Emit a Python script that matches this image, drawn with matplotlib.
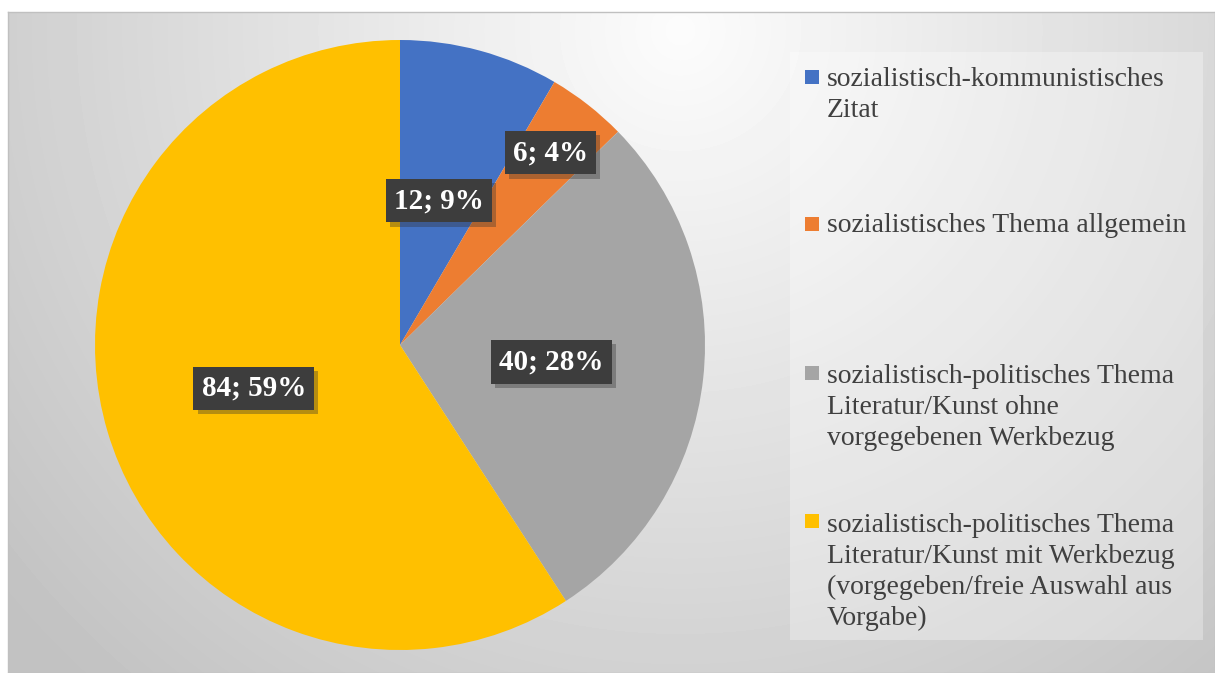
import numpy as np
import matplotlib
matplotlib.use("Agg")
import matplotlib.pyplot as plt
import matplotlib.patches as patches
import matplotlib.patheffects as pe

# data
categories = [
    "sozialistisch-kommunistisches\nZitat",
    "sozialistisches Thema allgemein",
    "sozialistisch-politisches Thema\nLiteratur/Kunst ohne\nvorgegebenen Werkbezug",
    "sozialistisch-politisches Thema\nLiteratur/Kunst mit Werkbezug\n(vorgegeben/freie Auswahl aus\nVorgabe)",
]
counts = [12, 6, 40, 84]
percents = [9, 4, 28, 59]
colors = ["#4472C4", "#ED7D31", "#A5A5A5", "#FFC000"]

W, H = 1215, 673
SERIF = ["Liberation Serif", "DejaVu Serif"]


def px(x, y):
    # pixel position (from top left) -> figure fraction
    return x / W, 1 - y / H


def background(fig):
    x0, y0 = 8, 12
    ax = fig.add_axes([x0 / W, 0, (W - x0) / W, (H - y0) / H])
    yy, xx = np.mgrid[y0:H, x0:W]
    d = np.hypot(xx - 680.0, yy - 30.0)
    g = np.clip(252 - 0.066 * d, 194, 252) / 255.0
    ax.imshow(g, cmap="gray", vmin=0, vmax=1, aspect="auto",
              interpolation="bilinear")
    ax.set_xticks([])
    ax.set_yticks([])
    for s in ax.spines.values():
        s.set_color("#c0c0c0")
        s.set_linewidth(1.0)


def pie(fig):
    cx, cy, r = 400, 345, 305
    left, bottom = px(cx - r, cy + r)
    ax = fig.add_axes([left, bottom, 2 * r / W, 2 * r / H])
    ax.patch.set_alpha(0)
    wedges, _ = ax.pie(counts, colors=colors, startangle=90,
                       counterclock=False, radius=1.0,
                       wedgeprops=dict(linewidth=0))
    ax.set_xlim(-1, 1)
    ax.set_ylim(-1, 1)

    dist = [0.49, 0.80, 0.50, 0.50]
    for w, n, p, f in zip(wedges, counts, percents, dist):
        ang = np.deg2rad((w.theta1 + w.theta2) / 2)
        t = ax.text(f * np.cos(ang), f * np.sin(ang),
                    "{0}; {1}%".format(n, p),
                    ha="center", va="center", color="white",
                    fontsize=21, fontweight="bold", family=SERIF,
                    bbox=dict(boxstyle="square,pad=0.28",
                              facecolor="#3d3d3d", edgecolor="none"))
        t.get_bbox_patch().set_path_effects([
            pe.SimplePatchShadow(offset=(3, -3), alpha=0.35,
                                 shadow_rgbFace="#303030"),
            pe.Normal()])


def legend(fig):
    x0, y0 = px(790, 640)
    x1, y1 = px(1203, 52)
    fig.patches.append(patches.Rectangle(
        (x0, y0), x1 - x0, y1 - y0, transform=fig.transFigure,
        facecolor="white", alpha=0.3, edgecolor="none", zorder=0))
    baselines = [85, 232, 381, 529]
    step = 32
    for label, color, base in zip(categories, colors, baselines):
        mx, my = px(805, base - 1)
        fig.patches.append(patches.Rectangle(
            (mx, my), 14 / W, 14 / H, transform=fig.transFigure,
            facecolor=color, edgecolor="none"))
        # va='baseline' anchors the last line of a multi-line text
        last = base + step * label.count("\n")
        tx, ty = px(827, last)
        fig.text(tx, ty, label, ha="left", va="baseline",
                 fontsize=20, color="#404040", family=SERIF,
                 linespacing=1.31)


fig = plt.figure(figsize=(W / 100, H / 100), dpi=100)
background(fig)
pie(fig)
legend(fig)
fig.savefig("out.png", dpi=100)
